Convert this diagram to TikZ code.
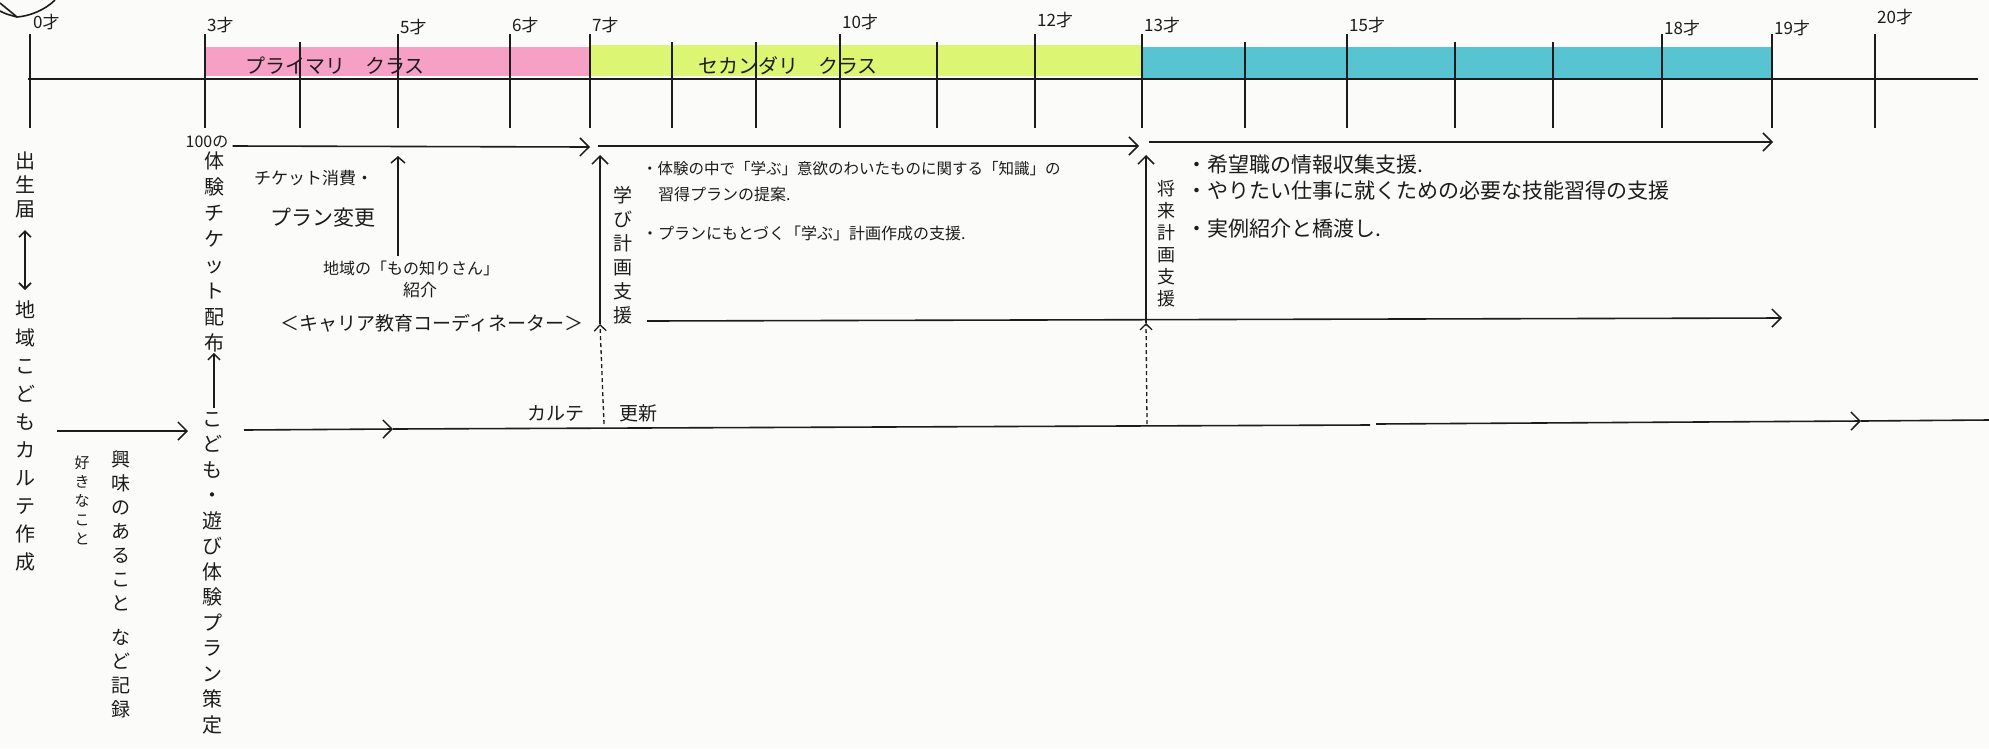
\documentclass[tikz,border=0pt]{standalone}
\usepackage{fontspec}
\setmainfont{Noto Sans CJK JP}
\usetikzlibrary{arrows.meta}
\definecolor{ink}{RGB}{28,28,28}
\definecolor{paper}{RGB}{251,251,249}
\definecolor{bandpink}{RGB}{246,160,198}
\definecolor{bandgreen}{RGB}{220,245,115}
\definecolor{bandblue}{RGB}{88,196,210}
\tikzset{
  ln/.style={draw=ink, line width=1.6pt},
  arr/.style={ln, -{Straight Barb[length=9pt,width=18pt,line width=1.5pt]}},
  dotln/.style={draw=ink, line width=1.3pt, dash pattern=on 4pt off 3pt},
  txt/.style={inner sep=0pt, text=ink},
  vt/.style n args={2}{txt, align=center, anchor=north, font=\fontsize{#1}{#2}\selectfont},
  hz/.style={txt, anchor=west, font=\fontsize{#1}{#1}\selectfont},
  age/.style={txt, anchor=west, font=\fontsize{17}{17}\selectfont},
}
\begin{document}
\begin{tikzpicture}[x=1pt,y=-1pt]
\useasboundingbox[fill=paper] (0,0) rectangle (1989,748);

% partial circle at top-left
\draw[ln] (0,3) -- (17,17) .. controls (30,16) and (45,10) .. (55,0);
\draw[ln] (0,11) .. controls (6,14) .. (17,17);

% colour bands
\fill[bandpink] (205,47) rectangle (590,76);
\fill[bandgreen] (590,45) rectangle (1143,76);
\fill[bandblue] (1143,47) rectangle (1772,78);

% main time line
\coordinate (L0) at (28,79);
\coordinate (L1) at (1978,79);
\draw[ln] (L0) -- (L1);

% ticks
\foreach \x in {30,205,398,510,590,840,1035,1142,1347,1662,1772,1875}
  \draw[ln] (\x,34) -- (\x,128);
\foreach \x in {300,672,756,937,1245,1455,1553}
  \draw[ln] (\x,42) -- (\x,128);

% age labels
\node[age] (a0)  at (33,22)   {0才};
\node[age] (a3)  at (207,25)  {3才};
\node[age] (a5)  at (400,27)  {5才};
\node[age] (a6)  at (512,25)  {6才};
\node[age] (a7)  at (592,25)  {7才};
\node[age] (a10) at (842,22)  {10才};
\node[age] (a12) at (1037,20) {12才};
\node[age] (a13) at (1144,25) {13才};
\node[age] (a15) at (1349,25) {15才};
\node[age] (a18) at (1664,28) {18才};
\node[age] (a19) at (1774,28) {19才};
\node[age] (a20) at (1877,17) {20才};

% band texts
\node[txt, font=\fontsize{20}{20}\selectfont] (prim) at (335,66) {プライマリ　クラス};
\node[txt, font=\fontsize{20}{20}\selectfont] (sec) at (788,66) {セカンダリ　クラス};

% first row of arrows
\node[txt, font=\fontsize{16}{16}\selectfont] (n100) at (207,142) {100の};
\coordinate (r1b) at (590,147);
\coordinate (r2a) at (598,146);
\coordinate (r2b) at (1139,146);
\coordinate (r3a) at (1149,142);
\coordinate (r3b) at (1773,142);
\draw[arr] (n100.east) ++(4,4) -- (r1b);
\draw[arr] (r2a) -- (r2b);
\draw[arr] (r3a) -- (r3b);

% left column
\node[vt={20}{24}] (birth) at (25,152) {出\\生\\届};
\coordinate (bb1) at (25,230);
\coordinate (bb2) at (25,290);
\draw[ln, {Straight Barb[length=6pt,width=12pt]}-{Straight Barb[length=6pt,width=12pt]}] (bb1) -- (bb2);
\node[vt={20}{28}] (karte) at (25,300) {地\\域\\こ\\ど\\も\\カ\\ル\\テ\\作\\成};
\node[vt={15}{19}] (suki) at (82,456) {好\\き\\な\\こ\\と};
\node[vt={19}{24}] (kyomi) at (121,450) {興\\味\\の\\あ\\る\\こ\\と\\[10pt]な\\ど\\記\\録};

% ticket column
\node[vt={20}{26}] (ticket) at (214,152) {体\\験\\チ\\ケ\\ッ\\ト\\配\\布};
\node[vt={20}{25.5}] (plan) at (212,412) {こ\\ど\\も\\・\\遊\\び\\体\\験\\プ\\ラ\\ン\\策\\定};
\draw[arr, -{Straight Barb[length=6pt,width=12pt,line width=1.5pt]}] (plan.north) ++(2,-4) -- (ticket.south);
\coordinate (ka1) at (57,431);
\coordinate (ka2) at (188,431);
\draw[arr] (ka1) -- (ka2);

% coordinator block
\node[hz=17] (use) at (254,178) {チケット消費・};
\node[hz=21] (chg) at (270,218) {プラン変更};
\node[txt, font=\fontsize{16}{16}\selectfont] (mono) at (411,268) {地域の「もの知りさん」};
\node[txt, font=\fontsize{17}{17}\selectfont] (shokai) at (420,290) {紹介};
\node[txt, font=\fontsize{19}{19}\selectfont] (coord) at (432,323) {＜キャリア教育コーディネーター＞};
\coordinate (u5a) at (398,256);
\coordinate (u5b) at (398,156);
\draw[arr, -{Straight Barb[length=6pt,width=14pt,line width=1.5pt]}] (u5a) -- (u5b);

% learning plan support (7 years)
\coordinate (d1a) at (604,424);
\coordinate (d1b) at (600,324);
\coordinate (v1b) at (600,155);
\draw[dotln, -{Straight Barb[length=6pt,width=12pt,line width=1.3pt]}] (d1a) -- (d1b);
\draw[arr, -{Straight Barb[length=8pt,width=16pt,line width=1.5pt]}] (d1b) -- (v1b);
\node[vt={19}{24}] (manabi) at (623,186) {学\\び\\計\\画\\支\\援};
\coordinate (h2a) at (647,321);
\coordinate (h2b) at (1782,318);
\draw[arr] (h2a) -- (h2b);

\node[hz=15.5] (m1) at (642,169) {・体験の中で「学ぶ」意欲のわいたものに関する「知識」の};
\node[hz=16] (m2) at (658,194) {習得プランの提案.};
\node[hz=16] (m3) at (642,233) {・プランにもとづく「学ぶ」計画作成の支援.};

% future plan support (13 years)
\coordinate (d2a) at (1147,424);
\coordinate (d2b) at (1146,323);
\coordinate (v2b) at (1146,155);
\draw[dotln, -{Straight Barb[length=6pt,width=12pt,line width=1.3pt]}] (d2a) -- (d2b);
\draw[arr, -{Straight Barb[length=8pt,width=16pt,line width=1.5pt]}] (d2b) -- (v2b);
\node[vt={18}{22}] (shorai) at (1166,180) {将\\来\\計\\画\\支\\援};

\node[hz=21] (f1) at (1186,165) {・希望職の情報収集支援.};
\node[hz=21] (f2) at (1186,191) {・やりたい仕事に就くための必要な技能習得の支援};
\node[hz=21] (f3) at (1186,229) {・実例紹介と橋渡し.};

% karte line
\coordinate (k0) at (244,430);
\coordinate (kA) at (393,429);
\coordinate (k1) at (1370,425);
\coordinate (k2) at (1376,424);
\coordinate (kB) at (1861,421);
\coordinate (k3) at (1989,420);
\draw[arr] (k0) -- (kA);
\draw[ln] (kA) -- (k1);
\draw[arr] (k2) -- (kB);
\draw[ln] (kB) -- (k3);
\node[txt, font=\fontsize{19}{19}\selectfont] (kl) at (556,413) {カルテ};
\node[txt, font=\fontsize{19}{19}\selectfont] (ku) at (638,413) {更新};
\end{tikzpicture}
\end{document}
